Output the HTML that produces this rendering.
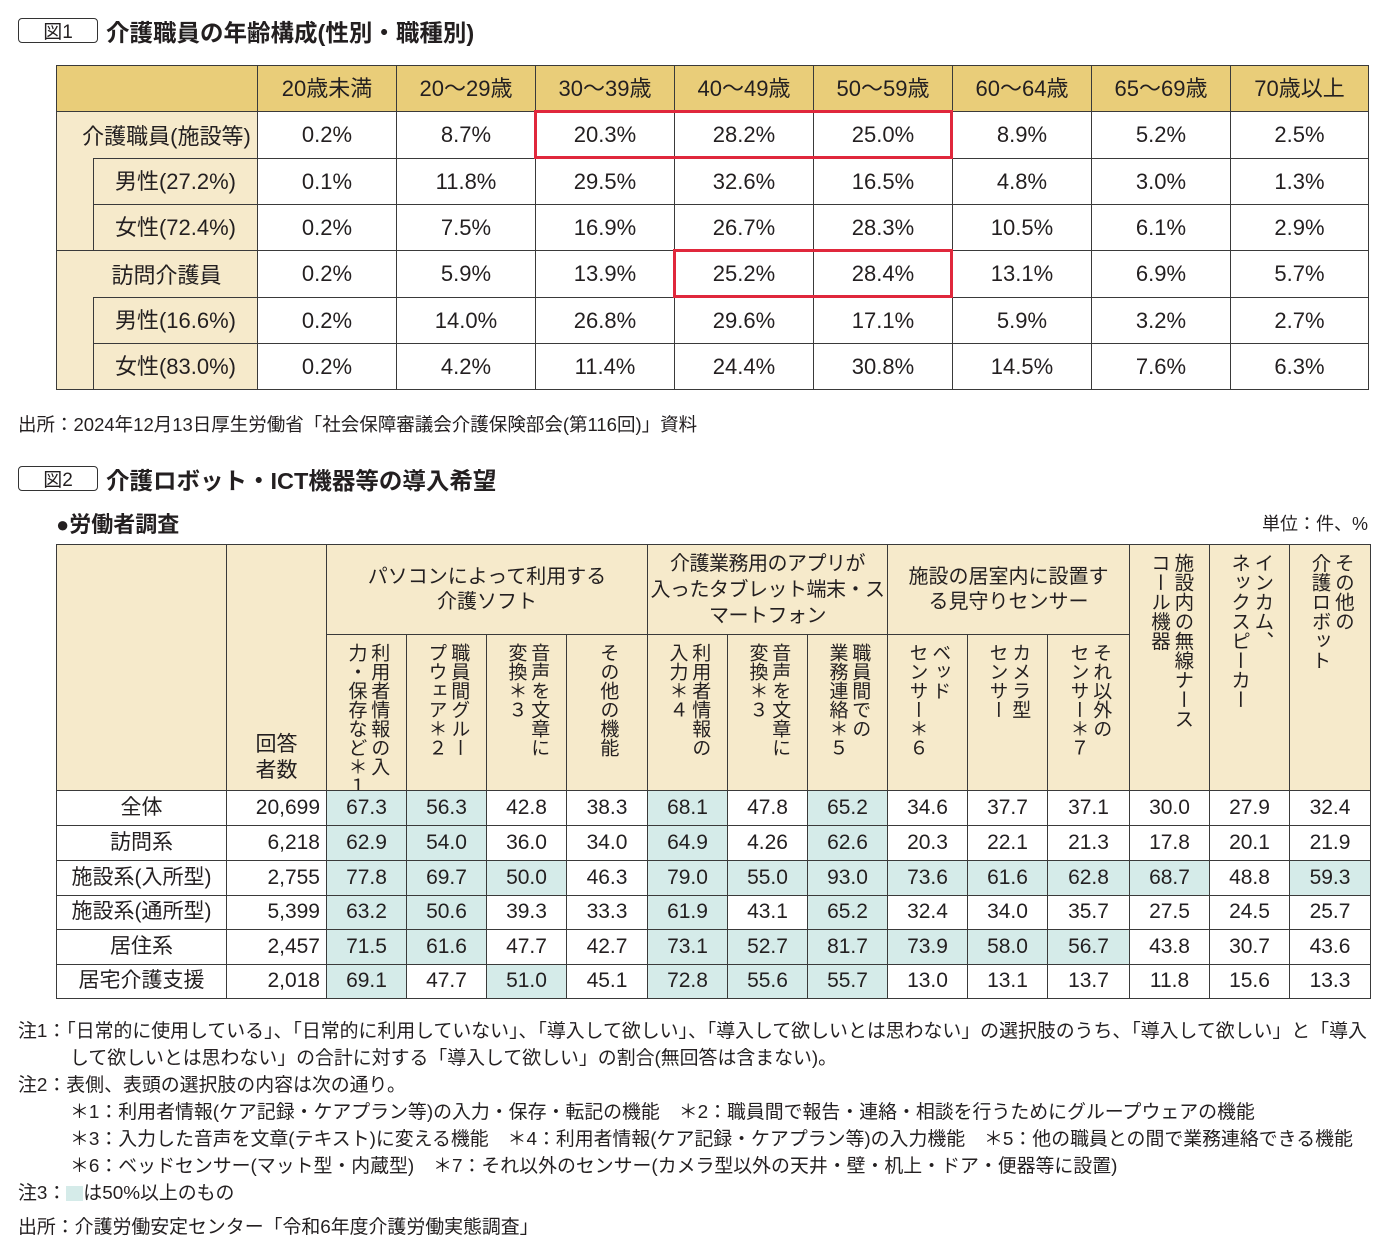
<!DOCTYPE html>
<html><head><meta charset="utf-8">
<style>
body{margin:0;background:#fff;}
#root{position:relative;width:1400px;height:1250px;overflow:hidden;font-family:"Liberation Sans","Noto Sans CJK JP",sans-serif;color:#231f20;}
.c{position:absolute;box-sizing:border-box;border:1px solid #3a3a3a;display:flex;align-items:center;justify-content:center;text-align:center;line-height:1.25;white-space:nowrap;}
.t{position:absolute;white-space:nowrap;}
.gold{background:#e9cd79;}
.beige{background:#f6eacb;}
.hl{background:#d5ebe9;}
.v{writing-mode:vertical-rl;align-items:center;justify-content:flex-start;padding-top:8px;text-align:start;line-height:1.2;}
.red{position:absolute;border:3px solid #e0283c;box-sizing:border-box;}
.fig{position:absolute;border:1.5px solid #333;border-radius:4px;box-sizing:border-box;font-size:19px;display:flex;align-items:center;justify-content:center;}
.note{position:absolute;white-space:nowrap;font-size:18.9px;}
</style></head>
<body><div id="root">
<div class="fig" style="left:18px;top:18px;width:80px;height:25px">図1</div>
<div class="t" style="left:106px;top:14px;font-size:23.5px;font-weight:bold">介護職員の年齢構成(性別・職種別)</div>
<div id="t1"></div>
<div class="note" style="left:18px;top:411px;font-size:18.5px">出所：2024年12月13日厚生労働省「社会保障審議会介護保険部会(第116回)」資料</div>
<div class="fig" style="left:18px;top:466px;width:80px;height:25px">図2</div>
<div class="t" style="left:106px;top:462px;font-size:23.5px;font-weight:bold">介護ロボット・ICT機器等の導入希望</div>
<div class="t" style="left:56px;top:507px;font-size:22px;font-weight:bold">●労働者調査</div>
<div class="t" style="right:32px;top:510px;font-size:18px">単位：件、%</div>
<div id="t2"></div>
<div class="note" style="left:18px;top:1016px">注1：「日常的に使用している」、「日常的に利用していない」、「導入して欲しい」、「導入して欲しいとは思わない」の選択肢のうち、「導入して欲しい」と「導入</div>
<div class="note" style="left:70px;top:1043px">して欲しいとは思わない」の合計に対する「導入して欲しい」の割合(無回答は含まない)。</div>
<div class="note" style="left:18px;top:1070px">注2：表側、表頭の選択肢の内容は次の通り。</div>
<div class="note" style="left:70px;top:1097px">＊1：利用者情報(ケア記録・ケアプラン等)の入力・保存・転記の機能　＊2：職員間で報告・連絡・相談を行うためにグループウェアの機能</div>
<div class="note" style="left:70px;top:1124px">＊3：入力した音声を文章(テキスト)に変える機能　＊4：利用者情報(ケア記録・ケアプラン等)の入力機能　＊5：他の職員との間で業務連絡できる機能</div>
<div class="note" style="left:70px;top:1151px">＊6：ベッドセンサー(マット型・内蔵型)　＊7：それ以外のセンサー(カメラ型以外の天井・壁・机上・ドア・便器等に設置)</div>
<div class="note" style="left:18px;top:1178px">注3：<span style="display:inline-block;width:17px;height:15px;background:#d5ebe9;vertical-align:-2px"></span>は50%以上のもの</div>
<div class="note" style="left:18px;top:1212px">出所：介護労働安定センター「令和6年度介護労働実態調査」</div>
</div>
<script>
const root=document.getElementById('root');
function cell(x,y,w,h,html,cls,fs,name){
  const d=document.createElement('div');
  d.className='c '+(cls||'');
  d.style.left=x+'px';d.style.top=y+'px';d.style.width=(w+1)+'px';d.style.height=(h+1)+'px';
  if(fs)d.style.fontSize=fs+'px';
  d.innerHTML=html||'';
  
  
  root.appendChild(d);return d;
}
// ---- Table 1 ----
const ageCols=['20歳未満','20～29歳','30～39歳','40～49歳','50～59歳','60～64歳','65～69歳','70歳以上'];
const ageRows=['介護職員(施設等)','男性(27.2%)','女性(72.4%)','訪問介護員','男性(16.6%)','女性(83.0%)'];
const ageVals=[
['0.2%','8.7%','20.3%','28.2%','25.0%','8.9%','5.2%','2.5%'],
['0.1%','11.8%','29.5%','32.6%','16.5%','4.8%','3.0%','1.3%'],
['0.2%','7.5%','16.9%','26.7%','28.3%','10.5%','6.1%','2.9%'],
['0.2%','5.9%','13.9%','25.2%','28.4%','13.1%','6.9%','5.7%'],
['0.2%','14.0%','26.8%','29.6%','17.1%','5.9%','3.2%','2.7%'],
['0.2%','4.2%','11.4%','24.4%','30.8%','14.5%','7.6%','6.3%']];
const x1=[257,396,535,674,813,952,1091,1230,1368];
const y1=[111,158,204,250,297,343,389];
cell(56,65,201,46,'','gold',22,'header-corner');
ageCols.forEach((c,i)=>cell(x1[i],65,x1[i+1]-x1[i],46,c,'gold',22,'header-age'));
[0,3].forEach(g=>{
  cell(56,y1[g],201,y1[g+3]-y1[g],'','beige',22,'group-label-block');
  const t=document.createElement('div');t.className='t';
  t.style.left='56px';t.style.width='221px';t.style.textAlign='center';t.style.top=(y1[g]+8)+'px';t.style.fontSize='22px';
  if(g===3)t.style.width='221px';
  t.textContent=ageRows[g];
  
  
  root.appendChild(t);
  for(let k=1;k<3;k++)cell(93,y1[g+k],164,y1[g+k+1]-y1[g+k],ageRows[g+k],'beige',22,'row-label-sub');
});
ageVals.forEach((r,ri)=>r.forEach((v,ci)=>cell(x1[ci],y1[ri],x1[ci+1]-x1[ci],y1[ri+1]-y1[ri],v,'',22,'value-cell')));
function red(x,y,w,h,n){const d=document.createElement('div');d.className='red';d.style.left=x+'px';d.style.top=y+'px';d.style.width=w+'px';d.style.height=h+'px';


root.appendChild(d);}
red(534,110,419,49,'highlight-box-1');
red(673,249,280,49,'highlight-box-2');
// ---- Table 2 ----
const x2=[56,226,326,406,486,566,647,727,807,887,967,1047,1129,1209,1289,1370];
const y2=[790,825,860,895,929,964,998];
const cats=['全体','訪問系','施設系(入所型)','施設系(通所型)','居住系','居宅介護支援'];
const counts=['20,699','6,218','2,755','5,399','2,457','2,018'];
const vals=[
[67.3,56.3,42.8,38.3,68.1,47.8,65.2,34.6,37.7,37.1,30.0,27.9,32.4],
[62.9,54.0,36.0,34.0,64.9,4.26,62.6,20.3,22.1,21.3,17.8,20.1,21.9],
[77.8,69.7,50.0,46.3,79.0,55.0,93.0,73.6,61.6,62.8,68.7,48.8,59.3],
[63.2,50.6,39.3,33.3,61.9,43.1,65.2,32.4,34.0,35.7,27.5,24.5,25.7],
[71.5,61.6,47.7,42.7,73.1,52.7,81.7,73.9,58.0,56.7,43.8,30.7,43.6],
[69.1,47.7,51.0,45.1,72.8,55.6,55.7,13.0,13.1,13.7,11.8,15.6,13.3]];
const subHeads=['利用者情報の入<br>力・保存など＊１','職員間グルー<br>プウェア＊２','音声を文章に<br>変換＊３','その他の機能','利用者情報の<br>入力＊４','音声を文章に<br>変換＊３','職員間での<br>業務連絡＊５','ベッド<br>センサー＊６','カメラ型<br>センサー','それ以外の<br>センサー＊７'];
const tallHeads=['施設内の無線ナース<br>コール機器','インカム、<br>ネックスピーカー','その他の<br>介護ロボット'];
cell(56,544,170,246,'','beige',21,'header-blank');
const ans=cell(226,544,100,246,'回答<br>者数','beige',21,'header-count');ans.style.alignItems='flex-end';ans.style.paddingBottom='6px';
cell(326,544,321,90,'パソコンによって利用する<br>介護ソフト','beige',20,'group-pc-software');
const g2=cell(647,544,240,90,'介護業務用のアプリが<br>入ったタブレット端末・ス<br>マートフォン','beige',20,'group-tablet-app');g2.style.letterSpacing='-0.5px';g2.style.lineHeight='1.3';
cell(887,544,242,90,'施設の居室内に設置す<br>る見守りセンサー','beige',20,'group-sensor');
subHeads.forEach((h,i)=>{cell(x2[i+2],634,x2[i+3]-x2[i+2],156,h,'beige v',19,'header-sub');});
tallHeads.forEach((h,i)=>{cell(x2[i+12],544,x2[i+13]-x2[i+12],246,h,'beige v',19.5,'header-tall');});
cats.forEach((c,r)=>{
  const h=y2[r+1]-y2[r];
  cell(56,y2[r],170,h,c,'',21,'row-category');
  const cc=cell(226,y2[r],100,h,counts[r],'',21,'row-count');cc.style.justifyContent='flex-end';cc.style.paddingRight='6px';
  vals[r].forEach((v,i)=>cell(x2[i+2],y2[r],x2[i+3]-x2[i+2],h,(v===4.26?'4.26':v.toFixed(1)),v>=50?'hl':'',21,'value-cell'));
});
</script>
</body></html>
